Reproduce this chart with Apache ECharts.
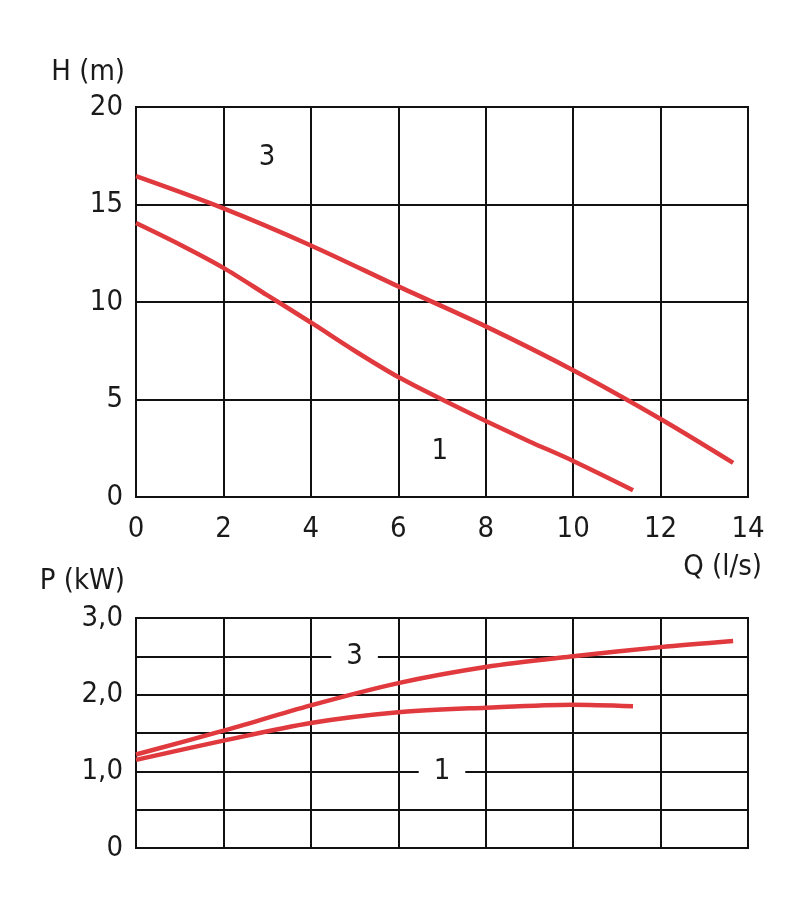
<!DOCTYPE html>
<html>
<head>
<meta charset="utf-8">
<script src="https://cdn.jsdelivr.net/npm/echarts@6/dist/echarts.min.js"></script>
<style>html,body{margin:0;padding:0;background:#fff;}#c{width:800px;height:913px;}</style>
</head>
<body>
<div id="c"></div>
<script>
// Head curves H (m) vs Q (l/s)
var qH3 = [0, 2, 4, 6, 8, 10, 12, 13.66];
var h3  = [16.45, 14.8, 12.9, 10.8, 8.75, 6.5, 4.0, 1.75];
var qH1 = [0, 1, 2, 3, 4, 5, 6, 7, 8, 9, 10, 11.37];
var h1  = [14.05, 12.95, 11.75, 10.35, 8.95, 7.5, 6.15, 5.0, 3.9, 2.85, 1.85, 0.35];
// Power curves P (kW) vs Q (l/s)
var qP3 = [0, 2, 4, 6, 8, 10, 12, 13.66];
var p3  = [1.22, 1.53, 1.86, 2.15, 2.36, 2.50, 2.62, 2.70];
var qP1 = [0, 2, 4, 6, 8, 10, 11.37];
var p1  = [1.15, 1.40, 1.63, 1.77, 1.83, 1.87, 1.85];
// Curve labels
var labelsH = [{name: '3', q: 3.0, v: 17.4}, {name: '1', q: 6.95, v: 2.35}];
var labelsP = [{name: '3', q: 5.0, v: 2.5}, {name: '1', q: 7.0, v: 1.0}];
// Axis texts
var xTitle = 'Q (l/s)', yTitleH = 'H (m)', yTitleP = 'P (kW)';

function zip(a, b) { return a.map(function (x, i) { return [x, b[i]]; }); }

var FONT = '"Liberation Sans Narrow", "DejaVu Sans Condensed", sans-serif';
var FS = 29;
var RED = '#e0393e';
var TXT = '#1a1a1a';
var gridLine = { show: true, lineStyle: { color: '#111', width: 2 } };

var chart = echarts.init(document.getElementById('c'));
chart.setOption({
  animation: false,
  backgroundColor: '#fff',
  textStyle: { fontFamily: FONT },
  grid: [
    { left: 136, top: 107, width: 612, height: 390, show: true, borderColor: '#111', borderWidth: 2 },
    { left: 136, top: 618, width: 612, height: 230, show: true, borderColor: '#111', borderWidth: 2 }
  ],
  xAxis: [
    { type: 'value', gridIndex: 0, min: 0, max: 14, interval: 2,
      axisLine: { show: true, lineStyle: { color: '#111', width: 2 } }, axisTick: { show: false },
      axisLabel: { fontFamily: FONT, fontSize: FS, color: TXT, margin: 18 },
      splitLine: gridLine },
    { type: 'value', gridIndex: 1, min: 0, max: 14, interval: 2,
      axisLine: { show: true, lineStyle: { color: '#111', width: 2 } }, axisTick: { show: false },
      axisLabel: { show: false }, splitLine: gridLine }
  ],
  yAxis: [
    { type: 'value', gridIndex: 0, min: 0, max: 20, interval: 5,
      axisLine: { show: true, lineStyle: { color: '#111', width: 2 } }, axisTick: { show: false },
      axisLabel: { fontFamily: FONT, fontSize: FS, color: TXT, margin: 13 },
      splitLine: gridLine },
    { type: 'value', gridIndex: 1, min: 0, max: 3, interval: 0.5,
      axisLine: { show: true, lineStyle: { color: '#111', width: 2 } }, axisTick: { show: false },
      axisLabel: { fontFamily: FONT, fontSize: FS, color: TXT, margin: 13,
        formatter: function (v) {
          if (v === 0) return '0';
          if (Math.abs(v - Math.round(v)) < 1e-9) return v.toFixed(1).replace('.', ',');
          return '';
        } },
      splitLine: gridLine }
  ],
  series: [
    { type: 'line', xAxisIndex: 0, yAxisIndex: 0, data: zip(qH3, h3), smooth: 0.3, showSymbol: false,
      lineStyle: { color: RED, width: 4.5 }, z: 5 },
    { type: 'line', xAxisIndex: 0, yAxisIndex: 0, data: zip(qH1, h1), smooth: 0.3, showSymbol: false,
      lineStyle: { color: RED, width: 4.5 }, z: 5 },
    { type: 'line', xAxisIndex: 1, yAxisIndex: 1, data: zip(qP3, p3), smooth: 0.3, showSymbol: false,
      lineStyle: { color: RED, width: 4.5 }, z: 5 },
    { type: 'line', xAxisIndex: 1, yAxisIndex: 1, data: zip(qP1, p1), smooth: 0.3, showSymbol: false,
      lineStyle: { color: RED, width: 4.5 }, z: 5 },
    { type: 'scatter', xAxisIndex: 0, yAxisIndex: 0, symbolSize: 1, silent: true, z: 6,
      itemStyle: { opacity: 1, color: 'rgba(0,0,0,0)' },
      data: labelsH.map(function (d) { return { name: d.name, value: [d.q, d.v] }; }),
      label: { show: true, position: 'inside', formatter: '{b}', fontFamily: FONT, fontSize: FS, color: TXT, opacity: 1 } },
    { type: 'scatter', xAxisIndex: 1, yAxisIndex: 1, symbolSize: 1, silent: true, z: 6,
      itemStyle: { opacity: 1, color: 'rgba(0,0,0,0)' },
      data: labelsP.map(function (d) { return { name: d.name, value: [d.q, d.v] }; }),
      label: { show: true, position: 'inside', formatter: '{b}', fontFamily: FONT, fontSize: FS, color: TXT, opacity: 1,
        backgroundColor: '#ffffff', padding: [0, 15] } }
  ],
  graphic: [
    { type: 'text', right: 675, top: 58, style: { text: yTitleH, font: FS + 'px ' + FONT, fill: TXT } },
    { type: 'text', right: 675, top: 567, style: { text: yTitleP, font: FS + 'px ' + FONT, fill: TXT } },
    { type: 'text', right: 38, top: 553, style: { text: xTitle, font: FS + 'px ' + FONT, fill: TXT } }
  ]
});
</script>
</body>
</html>
